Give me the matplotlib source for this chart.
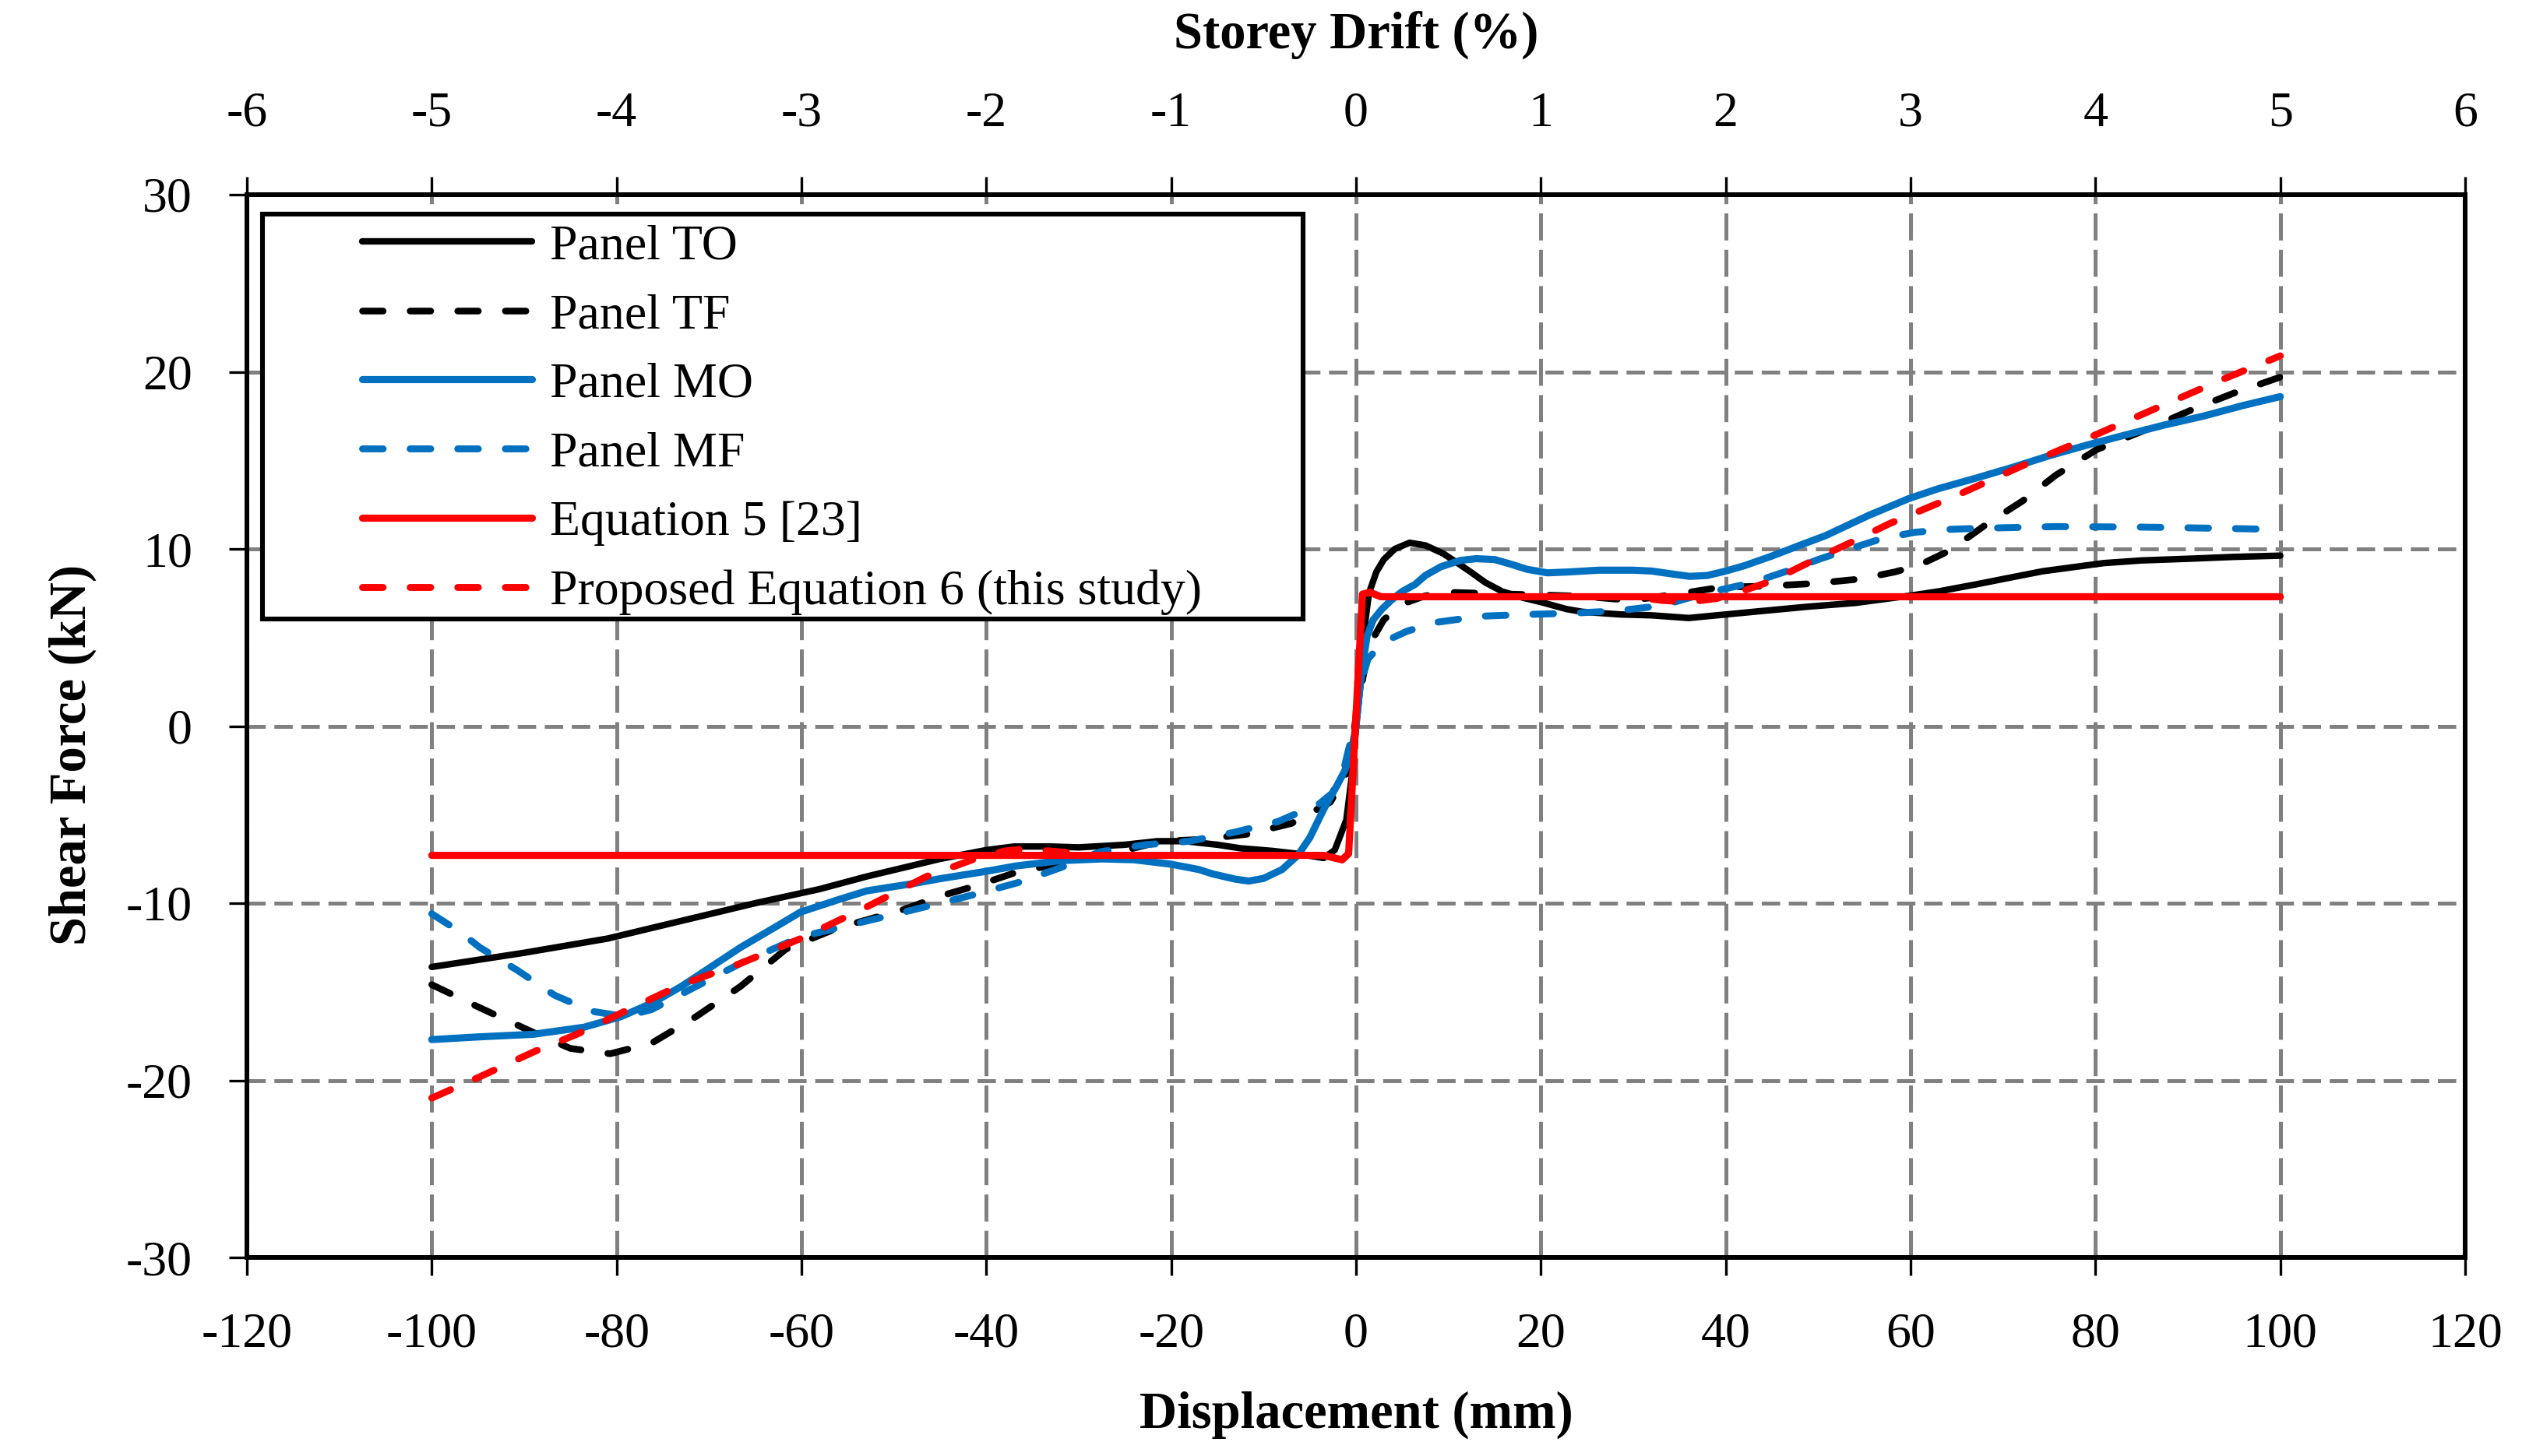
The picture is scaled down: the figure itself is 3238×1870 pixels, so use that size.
import matplotlib
matplotlib.use("Agg")
import matplotlib.pyplot as plt
from matplotlib.patches import Rectangle

plt.rcParams['font.family'] = ['Liberation Serif', 'DejaVu Serif']
plt.rcParams['axes.unicode_minus'] = False
plt.rcParams['lines.scale_dashes'] = False

# Panel TO (black solid)
to_x = [-100, -90, -81, -73, -65, -58, -53, -45, -40, -37, -33, -30, -25, -21.5, -18.5, -15, -12.5,
        -9, -6.5, -3.5, -2.3, -1.05, -0.45, 0, 0.45, 0.9, 1.4, 2.2, 3.0, 4.2, 5.8, 7.5, 9.4, 11,
        12.4, 14, 15.8, 18, 20, 22.8, 24.5, 28.6, 32, 36, 40, 43, 48.9, 54, 59.8, 63, 67.1, 70,
        74.3, 80.9, 85, 90.3, 95, 100]
to_y = [-13.6, -12.8, -12.0, -11.0, -10.0, -9.2, -8.5, -7.5, -7.0, -6.8, -6.8, -6.85, -6.7, -6.5,
        -6.5, -6.7, -6.9, -7.05, -7.2, -7.45, -7.0, -5.3, -2.8, -0.1, 2.2, 5.5, 7.5, 8.7, 9.4,
        10.0, 10.35, 10.2, 9.75, 9.2, 8.7, 8.1, 7.6, 7.25, 7.0, 6.6, 6.45, 6.3, 6.25, 6.1, 6.3,
        6.45, 6.74, 6.95, 7.35, 7.6, 8.0, 8.3, 8.74, 9.2, 9.35, 9.45, 9.55, 9.62]

# Panel TF (black dashed)
tf_x = [-100, -94.8, -89, -85, -80.7, -76.2, -71.4, -66.6, -61.7, -56.1, -48.9, -45, -41, -37,
        -32.5, -28, -21, -16.7, -11.7, -7, -2.8, -1.2, -0.3, 0.3, 1.0, 1.9, 3.0, 4.7, 5.6, 7.5,
        10.2, 15, 19.9, 24.4, 29.7, 32, 35, 39.5, 44.4, 49.6, 54.5, 58.3, 61, 64.2, 68.5, 72.1,
        75.7, 80.1, 85.1, 90.9, 95, 100]
tf_y = [-14.6, -15.9, -17.3, -18.2, -18.5, -17.9, -16.4, -14.7, -12.6, -11.4, -10.35, -9.6, -9.0,
        -8.3, -7.8, -7.4, -6.5, -6.4, -6.1, -5.5, -4.3, -3.0, -0.5, 1.5, 3.4, 5.0, 6.0, 6.76, 7.0,
        7.35, 7.55, 7.47, 7.4, 7.33, 7.1, 7.25, 7.47, 7.84, 7.9, 8.05, 8.3, 8.7, 9.1, 9.9, 11.5,
        12.7, 14.16, 15.6, 16.65, 17.96, 18.8, 19.7]

# Panel MO (blue solid)
mo_x = [-100, -95, -89, -83.5, -79.5, -76, -73, -69.5, -66.6, -63, -60.1, -56, -52.9, -48, -44.8,
        -40, -36.8, -32, -27.5, -24, -20, -17, -15.5, -13, -11.6, -10, -8, -6.3, -5, -3.5, -2,
        -1.2, -0.5, 0, 0.35, 0.73, 1.2, 1.86, 2.8, 3.8, 5, 6.4, 7.5, 9.2, 11.3, 13, 15, 17,
        18.5, 20.7, 23, 26.3, 30, 32, 34, 36.1, 38, 40, 42, 45, 48, 50.8, 55.5, 59.8, 63, 67.1,
        71, 75, 79, 83, 87.5, 91.7, 96, 100]
mo_y = [-17.7, -17.55, -17.4, -17.0, -16.4, -15.6, -14.7, -13.5, -12.5, -11.4, -10.5, -9.8, -9.3,
        -8.9, -8.6, -8.2, -7.9, -7.6, -7.5, -7.55, -7.8, -8.1, -8.35, -8.65, -8.75, -8.6, -8.1,
        -7.3, -6.3, -4.7, -3.3, -2.5, -1.4, 0.0, 1.8, 3.5, 5.1, 6.0, 6.6, 7.1, 7.6, 8.0, 8.5,
        9.0, 9.35, 9.45, 9.4, 9.1, 8.85, 8.65, 8.7, 8.8, 8.8, 8.75, 8.6, 8.45, 8.5, 8.75, 9.05,
        9.6, 10.2, 10.75, 11.9, 12.84, 13.4, 14.0, 14.6, 15.26, 15.85, 16.4, 17.0, 17.5, 18.1,
        18.6]

# Panel MF (blue dashed)
mf_x = [-100, -97, -94.8, -90.7, -86.7, -82.7, -80.3, -78, -76.2, -71.4, -66.6, -60.1, -54.5,
        -48.9, -45, -41.2, -36.3, -32, -27.7, -22.8, -18, -13.2, -8.5, -4, -2.6, -1.4, 0,
        0.5, 1.3, 3.0, 5.5, 8.6, 13.5, 18.4, 23.3, 28.2, 33.1, 37.6, 42.9, 47.5, 50, 54, 57,
        60.5, 64, 67.1, 75.7, 85.1, 93.9, 100]
mf_y = [-10.6, -11.6, -12.5, -13.8, -15.2, -16.1, -16.3, -16.25, -16.0, -14.7, -13.4, -11.9, -11.2,
        -10.5, -10.0, -9.5, -8.8, -8.0, -7.1, -6.7, -6.5, -6.0, -5.4, -4.4, -3.8, -2.6, 0.4,
        2.4, 3.8, 4.75, 5.35, 5.85, 6.2, 6.3, 6.37, 6.5, 6.8, 7.47, 8.1, 8.9, 9.4, 10.1,
        10.6, 10.94, 11.1, 11.16, 11.26, 11.23, 11.16, 11.1]

# Equation 5 [23] (red solid)
eq5_x = [-100, -3.5, -1.5, -0.8, 0.7, 1.5, 2.7, 100]
eq5_y = [-7.3, -7.3, -7.55, -7.2, 7.45, 7.55, 7.3, 7.3]

# Proposed Equation 6 (red dashed)
eq6_x = [-100, -94.8, -89, -84.3, -79.5, -73, -66.6, -60.1, -52.9, -46.5, -41, -38, -36, -32,
         -28, -3.5, -1.5, -0.8, 0.7, 1.5, 2.7, 30, 33, 36, 39, 41.7, 45, 50.4, 54.1, 57.6, 64.9,
         72.1, 79.4, 86.6, 93.9, 100]
eq6_y = [-21.0, -19.8, -18.4, -17.4, -16.2, -14.6, -13.4, -12.0, -10.2, -8.5, -7.45, -7.05, -6.95,
         -7.1, -7.3, -7.3, -7.55, -7.2, 7.45, 7.55, 7.3, 7.3, 7.1, 7.0, 7.2, 7.6, 8.2, 9.6, 10.5,
         11.4, 13.0, 14.7, 16.3, 17.95, 19.6, 20.9]

labels = ['Panel TO', 'Panel TF', 'Panel MO', 'Panel MF', 'Equation 5 [23]',
          'Proposed Equation 6 (this study)']
x_ticks = list(range(-120, 121, 20))
y_ticks = list(range(-30, 31, 10))
drift_ticks = list(range(-6, 7))

blue = '#0070C0'
red = '#FF0000'
dash = (0, (19, 25))
fs = 46

fig = plt.figure(figsize=(32.38, 18.70), dpi=100)
ax = fig.add_axes([317 / 3238, 1 - 1615 / 1870, 2848 / 3238, 1365 / 1870])

style = dict(solid_capstyle='round', solid_joinstyle='round', dash_capstyle='round')
l1, = ax.plot(to_x, to_y, color='black', lw=6.0, **style)
l2, = ax.plot(tf_x, tf_y, color='black', lw=6.2, linestyle=dash, **style)
l3, = ax.plot(mo_x, mo_y, color=blue, lw=6.6, **style)
l4, = ax.plot(mf_x, mf_y, color=blue, lw=6.4, linestyle=dash, **style)
l5, = ax.plot(eq5_x, eq5_y, color=red, lw=6.6, **style)
l6, = ax.plot(eq6_x, eq6_y, color=red, lw=6.4, linestyle=dash, **style)

ax.set_xlim(-120, 120)
ax.set_ylim(-30, 30)
ax.set_xticks(x_ticks)
ax.set_yticks(y_ticks)
ax.set_axisbelow(True)
ax.xaxis.grid(True, color='#808080', lw=3.6, linestyle=(0, (25, 8.6)))
ax.yaxis.grid(True, color='#808080', lw=3.6, linestyle=(0, (17, 8)))
ax.tick_params(axis='both', direction='out', length=16.5, width=2.4, labelsize=fs)
ax.tick_params(axis='x', pad=34)
ax.tick_params(axis='y', pad=34)
for s in ax.spines.values():
    s.set_linewidth(4.2)

ax.set_xlabel('Displacement (mm)', fontsize=48, fontweight='bold')
ax.xaxis.set_label_coords(0.5, -0.148)
ax.xaxis.label.set_va('center')
ax.set_ylabel('Shear Force (kN)', fontsize=48, fontweight='bold')
ax.yaxis.set_label_coords(-0.0787, 0.473)
ax.yaxis.label.set_va('center')

# secondary axis on top: storey drift in %
ax2 = ax.twiny()
ax2.set_xlim(-6, 6)
ax2.set_xticks(drift_ticks)
ax2.tick_params(axis='x', direction='out', length=16.5, width=2.4, labelsize=fs, pad=37)
ax2.set_xlabel('Storey Drift (%)', fontsize=48, fontweight='bold')
ax2.xaxis.set_label_coords(0.5, 1.150)
ax2.xaxis.label.set_va('center')
for s in ax2.spines.values():
    s.set_linewidth(4.2)

# legend box drawn separately so the padding matches
box = Rectangle((0.00702, 0.6007), 0.469, 0.381, transform=ax.transAxes,
                facecolor='white', edgecolor='black', lw=4.4, zorder=5)
ax.add_patch(box)
leg = ax.legend([l1, l2, l3, l4, l5, l6], labels, loc='upper left',
                bbox_to_anchor=(0.052, 0.9725), frameon=False, borderpad=0,
                borderaxespad=0, handlelength=3.41, handletextpad=0.36,
                labelspacing=0.47, fontsize=fs)
leg.set_zorder(6)

fig.savefig('out.png', dpi=100)
